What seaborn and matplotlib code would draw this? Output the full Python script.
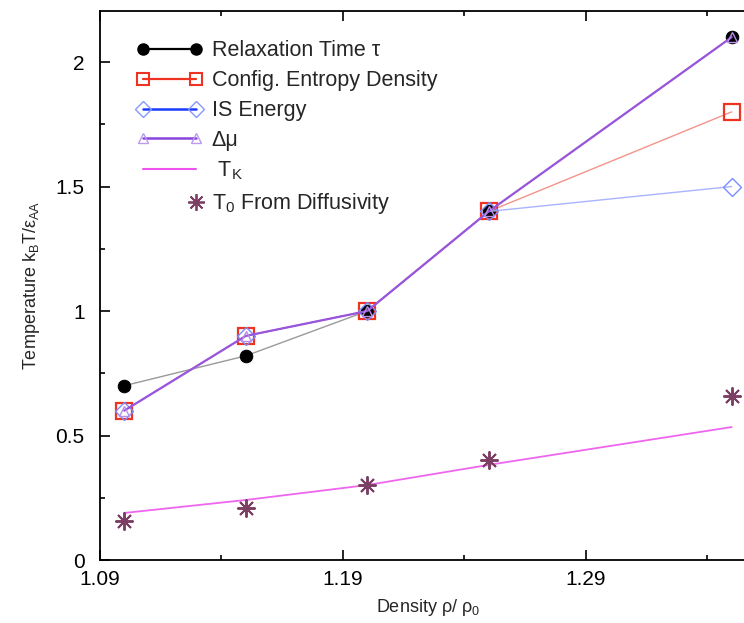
import numpy as np
import pandas as pd
import matplotlib
matplotlib.use("Agg")
import matplotlib.pyplot as plt
from matplotlib.lines import Line2D
from matplotlib.legend_handler import HandlerLine2D
import seaborn as sns

density = [1.10, 1.15, 1.20, 1.25, 1.35]
relax_time = [0.70, 0.82, 1.00, 1.40, 2.10]
config_entropy = [0.60, 0.90, 1.00, 1.40, 1.80]
is_energy = [0.60, 0.90, 1.00, 1.40, 1.50]
delta_mu = [0.60, 0.90, 1.00, 1.40, 2.10]
t_kauzmann = [0.189, 0.241, 0.301, 0.382, 0.534]
t0_diffusivity = [0.157, 0.209, 0.300, 0.400, 0.660]

xtick_vals = [1.09, 1.19, 1.29]
xtick_labels = ["1.09", "1.19", "1.29"]
xminor_vals = [1.14, 1.24, 1.34]
ytick_vals = [0, 0.5, 1, 1.5, 2]
ytick_labels = ["0", "0.5", "1", "1.5", "2"]
yminor_vals = [0.25, 0.75, 1.25, 1.75]

sns.set_style("ticks")
plt.rcParams["font.family"] = ["Liberation Sans", "DejaVu Sans"]
plt.rcParams["mathtext.fontset"] = "custom"
plt.rcParams["mathtext.rm"] = "Liberation Sans"
plt.rcParams["mathtext.it"] = "Liberation Sans:italic"

fig = plt.figure(figsize=(7.44, 6.23), dpi=100)
ax = fig.add_axes([100 / 744, 63 / 623, (756 - 100) / 744, (560 - 11) / 623])

df = pd.DataFrame({"x": density, "relax": relax_time, "conf": config_entropy,
                   "is": is_energy, "dmu": delta_mu, "tk": t_kauzmann, "t0": t0_diffusivity})

sns.lineplot(data=df, x="x", y="relax", ax=ax, color="#9a9a9a", lw=1.0, zorder=2)
sns.lineplot(data=df, x="x", y="relax", ax=ax, color="black", lw=0, marker="o",
             markersize=9, markeredgecolor="black", zorder=3)
sns.lineplot(data=df, x="x", y="conf", ax=ax, color="#f4948a", lw=1.0, marker="s",
             markersize=12, markerfacecolor="none", markeredgecolor="#ee3322",
             markeredgewidth=1.6, zorder=4)
sns.lineplot(data=df, x="x", y="is", ax=ax, color="#a8b4ff", lw=1.0, marker="D",
             markersize=9, markerfacecolor="none", markeredgecolor="#7a8cff",
             markeredgewidth=1.0, zorder=5)
sns.lineplot(data=df, x="x", y="dmu", ax=ax, color="#9a55dd", lw=1.6, marker="^",
             markersize=7, markerfacecolor="none", markeredgecolor="#b78ee8",
             markeredgewidth=1.0, zorder=6)
sns.lineplot(data=df, x="x", y="tk", ax=ax, color="#ee66ee", lw=1.3, zorder=4)
sns.lineplot(data=df, x="x", y="t0", ax=ax, color="#7a3f62", lw=0, marker=(8, 2, 0),
             markersize=13, markeredgecolor="#7a3f62", markeredgewidth=1.4, zorder=5)

ax.set_xlim(1.09, 1.36)
ax.set_ylim(0, 2.205)
ax.set_xticks(xtick_vals)
ax.set_xticklabels(xtick_labels)
ax.set_xticks(xminor_vals, minor=True)
ax.set_yticks(ytick_vals)
ax.set_yticklabels(ytick_labels)
ax.set_yticks(yminor_vals, minor=True)

ax.tick_params(which="both", direction="in", top=True, right=True, width=1.2,
               labelsize=15, colors="black")
ax.tick_params(which="major", length=7)
ax.tick_params(which="minor", length=3.5)
ax.tick_params(axis="x", pad=7)
ax.tick_params(axis="y", pad=11)
for s in ax.spines.values():
    s.set_linewidth(1.3)
    s.set_color("black")

ax.set_xlabel(r"Density ρ/ ρ$_\mathregular{0}$", fontsize=13, labelpad=6)
ax.set_ylabel(r"Temperature k$_\mathregular{B}$T/ε$_\mathregular{AA}$", fontsize=13, labelpad=10)


class RightMarker(HandlerLine2D):
    def create_artists(self, *args, **kwargs):
        arts = super().create_artists(*args, **kwargs)
        for a in arts:
            n = len(a.get_xdata())
            a.set_markevery([n - 1])
        return arts


handles = [
    Line2D([], [], color="black", lw=1.6, marker="o", markersize=8),
    Line2D([], [], color="#ee3322", lw=1.6, marker="s", markersize=9,
           markerfacecolor="none", markeredgewidth=1.5),
    Line2D([], [], color="#1a3cff", lw=1.8, marker="D", markersize=8,
           markerfacecolor="none", markeredgecolor="#8898ff", markeredgewidth=1.0),
    Line2D([], [], color="#8844dd", lw=1.8, marker="^", markersize=7,
           markerfacecolor="none", markeredgecolor="#bb99ee", markeredgewidth=1.0),
    Line2D([], [], color="#ee55ee", lw=1.5),
    Line2D([], [], color="#7a3f62", lw=0, marker=(8, 2, 0), markersize=12,
           markeredgewidth=1.3),
]
labels = ["Relaxation Time τ", "Config. Entropy Density", "IS Energy", "Δμ",
          r" T$_\mathregular{K}$", r"T$_\mathregular{0}$ From Diffusivity"]
leg = ax.legend(handles, labels, loc="upper left", bbox_to_anchor=(0.042, 0.962),
                frameon=False, fontsize=15.5, numpoints=2, handlelength=3.1,
                handletextpad=0.4, labelspacing=0.41, borderaxespad=0.0,
                handler_map={handles[5]: RightMarker(numpoints=2)})

fig.savefig("out.png", dpi=100)
